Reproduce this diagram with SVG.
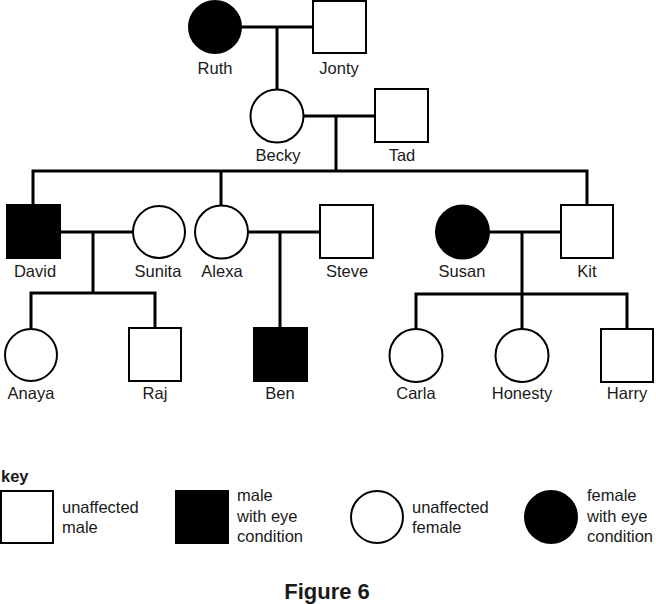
<svg xmlns="http://www.w3.org/2000/svg" width="656" height="604" viewBox="0 0 656 604">
<style>
.w{fill:#fff;stroke:#000;stroke-width:2}
.b{fill:#000;stroke:#000;stroke-width:2}
.c{fill:none;stroke:#000;stroke-width:3;stroke-linecap:square}
text{font-family:"Liberation Sans",Arial,sans-serif;font-size:16.5px;fill:#1a1a1a}
.m{text-anchor:middle}
.bold{font-weight:bold}
</style>
<rect width="656" height="604" fill="#fff"/>
<g id="connectors" class="c">
<path d="M242 27H313M277 27V89"/>
<path d="M303 116H375M336 116V171M33 171H587M33 171V205M221 171V205M587 171V205"/>
<path d="M60 232H133M93 232V293M31 293H155M31 293V328M155 293V328"/>
<path d="M248 232H320M280 232V328"/>
<path d="M489 232H561M522 232V294M416 294H627M416 294V329M522 294V329M627 294V329"/>
</g>
<g id="ruth"><circle class="b" cx="215" cy="27" r="26"/><text class="m" x="215" y="74">Ruth</text></g>
<g id="jonty"><rect class="w" x="313" y="1" width="53" height="52"/><text class="m" x="339" y="74">Jonty</text></g>
<g id="becky"><circle class="w" cx="277" cy="116" r="26.5"/><text class="m" x="278" y="161">Becky</text></g>
<g id="tad"><rect class="w" x="375" y="89" width="53" height="53"/><text class="m" x="402" y="161">Tad</text></g>
<g id="david"><rect class="b" x="7" y="205" width="53" height="53"/><text class="m" x="35" y="277">David</text></g>
<g id="sunita"><circle class="w" cx="159" cy="232" r="26"/><text class="m" x="158" y="277">Sunita</text></g>
<g id="alexa"><circle class="w" cx="221.5" cy="232" r="26.5"/><text class="m" x="222" y="277">Alexa</text></g>
<g id="steve"><rect class="w" x="320" y="205" width="53" height="53"/><text class="m" x="347" y="277">Steve</text></g>
<g id="susan"><circle class="b" cx="462.5" cy="232" r="26.5"/><text class="m" x="462" y="277">Susan</text></g>
<g id="kit"><rect class="w" x="561" y="205" width="52" height="53"/><text class="m" x="587" y="277">Kit</text></g>
<g id="anaya"><circle class="w" cx="31" cy="355" r="26"/><text class="m" x="31" y="399">Anaya</text></g>
<g id="raj"><rect class="w" x="129" y="328" width="52" height="53"/><text class="m" x="155" y="399">Raj</text></g>
<g id="ben"><rect class="b" x="254" y="328" width="53" height="53"/><text class="m" x="280" y="399">Ben</text></g>
<g id="carla"><circle class="w" cx="416" cy="355.5" r="26.5"/><text class="m" x="416" y="399">Carla</text></g>
<g id="honesty"><circle class="w" cx="522" cy="355.5" r="26.5"/><text class="m" x="522" y="399">Honesty</text></g>
<g id="harry"><rect class="w" x="601" y="329" width="52" height="53"/><text class="m" x="627" y="399">Harry</text></g>
<g id="key">
<text class="bold" x="1" y="482">key</text>
<rect class="w" x="1" y="491" width="52" height="52"/>
<text x="62" y="513">unaffected</text><text x="62" y="533">male</text>
<rect class="b" x="176" y="491" width="52" height="52"/>
<text x="237" y="501">male</text><text x="237" y="522">with eye</text><text x="237" y="542">condition</text>
<ellipse class="w" cx="377" cy="517" rx="26" ry="26"/>
<text x="412" y="513">unaffected</text><text x="412" y="533">female</text>
<ellipse class="b" cx="551" cy="517" rx="26" ry="26"/>
<text x="587" y="501">female</text><text x="587" y="522">with eye</text><text x="587" y="542">condition</text>
</g>
<text class="m bold" x="327" y="599" style="font-size:22px">Figure 6</text>
</svg>
